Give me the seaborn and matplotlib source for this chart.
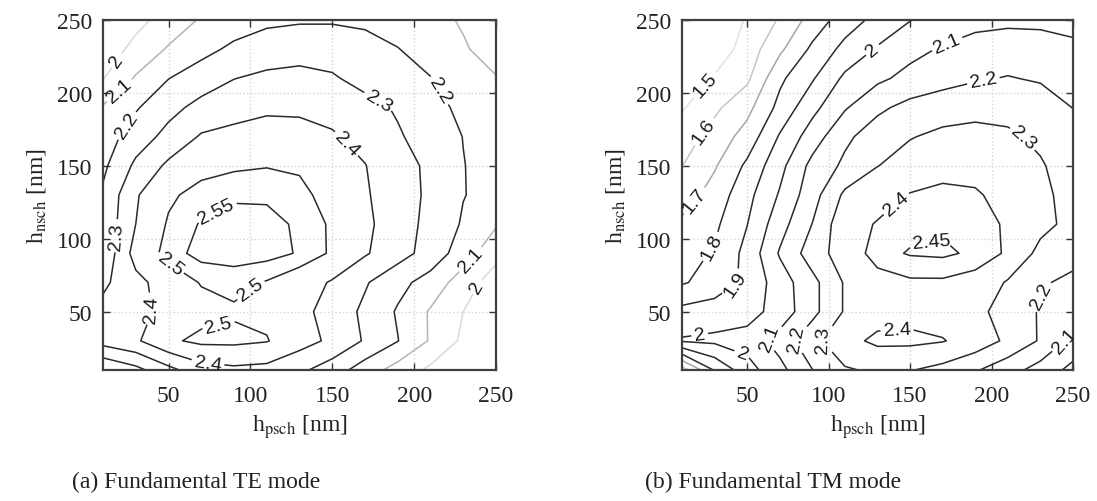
import matplotlib
matplotlib.use("Agg")
import numpy as np
import matplotlib.pyplot as plt
import seaborn as sns

# layer thicknesses of the simulation grid [nm]
h_psch = [10, 30, 50, 70, 90, 110, 130, 150, 170, 190, 210, 230, 250]
h_nsch = [10, 30, 50, 70, 90, 110, 130, 150, 170, 190, 210, 230, 250]

# effective index, one row per h_nsch (bottom -> top)
te_index = [
    [2.10, 2.17, 2.27, 2.36, 2.38, 2.37, 2.32, 2.25, 2.15, 2.06, 1.98, 1.90, 1.84],
    [2.34, 2.385, 2.485, 2.52, 2.52, 2.505, 2.44, 2.38, 2.29, 2.203, 2.09, 1.98, 1.90],
    [2.33, 2.37, 2.43, 2.47, 2.49, 2.48, 2.43, 2.36, 2.28, 2.19, 2.09, 2.00, 1.93],
    [2.28, 2.37, 2.45, 2.505, 2.52, 2.495, 2.45, 2.39, 2.31, 2.23, 2.16, 2.05, 1.95],
    [2.22, 2.44, 2.525, 2.57, 2.575, 2.57, 2.545, 2.49, 2.41, 2.34, 2.26, 2.15, 2.03],
    [2.225, 2.40, 2.51, 2.555, 2.575, 2.57, 2.54, 2.49, 2.42, 2.35, 2.27, 2.19, 2.11],
    [2.215, 2.39, 2.485, 2.53, 2.54, 2.54, 2.52, 2.47, 2.41, 2.35, 2.28, 2.203, 2.17],
    [2.18, 2.32, 2.42, 2.47, 2.49, 2.497, 2.49, 2.45, 2.403, 2.34, 2.28, 2.203, 2.16],
    [2.15, 2.25, 2.33, 2.41, 2.43, 2.45, 2.44, 2.41, 2.37, 2.31, 2.26, 2.198, 2.16],
    [2.11, 2.19, 2.27, 2.33, 2.36, 2.38, 2.38, 2.37, 2.33, 2.29, 2.23, 2.18, 2.14],
    [1.995, 2.11, 2.198, 2.25, 2.298, 2.32, 2.33, 2.31, 2.27, 2.24, 2.203, 2.15, 2.105],
    [1.94, 2.03, 2.11, 2.17, 2.22, 2.25, 2.26, 2.26, 2.24, 2.203, 2.16, 2.11, 2.06],
    [1.93, 1.97, 2.04, 2.11, 2.15, 2.18, 2.19, 2.19, 2.18, 2.16, 2.13, 2.09, 2.05],
]

tm_index = [
    [1.55, 1.81, 1.96, 2.07, 2.198, 2.29, 2.315, 2.305, 2.27, 2.21, 2.14, 2.06, 1.97],
    [2.01, 2.02, 2.04, 2.14, 2.27, 2.37, 2.42, 2.42, 2.405, 2.36, 2.28, 2.19, 2.07],
    [1.93, 1.95, 1.96, 2.04, 2.17, 2.31, 2.36, 2.37, 2.36, 2.32, 2.27, 2.19, 2.14],
    [1.79, 1.84, 1.925, 2.05, 2.17, 2.31, 2.37, 2.39, 2.39, 2.37, 2.29, 2.21, 2.18],
    [1.76, 1.81, 1.93, 2.11, 2.25, 2.35, 2.43, 2.455, 2.46, 2.44, 2.39, 2.27, 2.23],
    [1.72, 1.78, 1.898, 2.06, 2.202, 2.37, 2.405, 2.43, 2.44, 2.43, 2.39, 2.33, 2.27],
    [1.65, 1.74, 1.87, 2.01, 2.16, 2.32, 2.37, 2.405, 2.42, 2.41, 2.37, 2.32, 2.27],
    [1.598, 1.69, 1.82, 1.97, 2.13, 2.22, 2.298, 2.34, 2.37, 2.37, 2.35, 2.31, 2.25],
    [1.55, 1.64, 1.74, 1.91, 2.05, 2.18, 2.25, 2.295, 2.32, 2.33, 2.315, 2.28, 2.23],
    [1.49, 1.58, 1.67, 1.83, 1.97, 2.09, 2.18, 2.23, 2.26, 2.27, 2.27, 2.25, 2.198],
    [1.43, 1.51, 1.58, 1.78, 1.89, 2.02, 2.08, 2.13, 2.16, 2.19, 2.205, 2.19, 2.16],
    [1.36, 1.435, 1.545, 1.68, 1.82, 1.93, 2.01, 2.07, 2.11, 2.14, 2.15, 2.14, 2.12],
    [1.35, 1.42, 1.51, 1.61, 1.74, 1.85, 1.93, 1.997, 2.04, 2.07, 2.08, 2.08, 2.07],
]

te_levels = [2.0, 2.1, 2.2, 2.3, 2.4, 2.5, 2.55]
tm_levels = [1.5, 1.6, 1.7, 1.8, 1.9, 2.0, 2.1, 2.2, 2.3, 2.4, 2.45]

# low levels came out pale in the print
te_colors = ["#dadada", "#b4b4b4"] + ["#2a2a2a"] * 5
tm_colors = ["#e2e2e2", "#c6c6c6", "#a6a6a6"] + ["#2a2a2a"] * 8

# where the contour labels sit (h_psch, h_nsch)
te_label_pos = [(18.6, 222), (19.2, 202.7), (25.3, 177), (18.5, 102), (40.5, 52),
                (50.9, 82.7), (80, 117), (99.8, 65.6), (80, 43.6), (74, 14.2),
                (178, 194), (214, 200.6), (156.6, 163), (236, 84), (240, 66)]
tm_label_pos = [(24.1, 206), (24.1, 173), (16.8, 127), (28.4, 94.3), (43.8, 67.6),
                (21, 33), (47.4, 22.4), (62.8, 33.3), (78, 33.3), (93.5, 33.3),
                (142, 38.1), (162.2, 101.2), (140.7, 125), (217.5, 167), (194.8, 209.5),
                (172.7, 233.5), (126.6, 230), (232.8, 58.7), (246.3, 29.2)]

sns.set_theme(style="ticks")
plt.rcParams["font.family"] = ["Liberation Serif", "DejaVu Serif"]
plt.rcParams["mathtext.fontset"] = "stix"

fig = plt.figure(figsize=(10.97, 5.02), dpi=100)
ax_te = fig.add_axes([103 / 1097, 131 / 502, 393 / 1097, 350 / 502])
ax_tm = fig.add_axes([682 / 1097, 131 / 502, 391 / 1097, 350 / 502])

X, Y = np.meshgrid(h_psch, h_nsch)


def draw_panel(ax, Z, levels, colors, label_pos):
    ax.grid(True, color="#d4d4d4", linestyle=":", linewidth=1.0)
    ax.set_axisbelow(True)
    cs = ax.contour(X, Y, np.array(Z), levels=levels, colors=colors, linewidths=1.1)
    with plt.rc_context({"font.family": ["Liberation Sans", "DejaVu Sans"]}):
        ax.clabel(cs, manual=label_pos, inline=True, inline_spacing=3,
                  fontsize=14, colors="#1a1a1a", fmt=lambda v: f"{v:g}")
    ax.set_xlim(10, 250)
    ax.set_ylim(10, 250)
    ax.set_xticks([50, 100, 150, 200, 250])
    ax.set_yticks([50, 100, 150, 200, 250])
    ax.tick_params(direction="in", top=True, right=True, length=5, width=1.0,
                   labelsize=17, colors="#333333", labelcolor="#222222")
    ax.tick_params(axis="x", pad=11)
    ax.tick_params(axis="y", pad=8)
    for sp in ax.spines.values():
        sp.set_linewidth(1.6)
        sp.set_color("#404040")
    ax.set_xlabel(r"h$_{\mathrm{psch}}$ [nm]", fontsize=17, labelpad=4, color="#222222")
    ax.set_ylabel(r"h$_{\mathrm{nsch}}$ [nm]", fontsize=17, labelpad=6, color="#222222")


draw_panel(ax_te, te_index, te_levels, te_colors, te_label_pos)
draw_panel(ax_tm, tm_index, tm_levels, tm_colors, tm_label_pos)

fig.text(196 / 1097, 1 - 482 / 502, "(a) Fundamental TE mode", ha="center", va="center",
         fontsize=17, color="#222222")
fig.text(773 / 1097, 1 - 482 / 502, "(b) Fundamental TM mode", ha="center", va="center",
         fontsize=17, color="#222222")

fig.savefig("out.png", dpi=100)
